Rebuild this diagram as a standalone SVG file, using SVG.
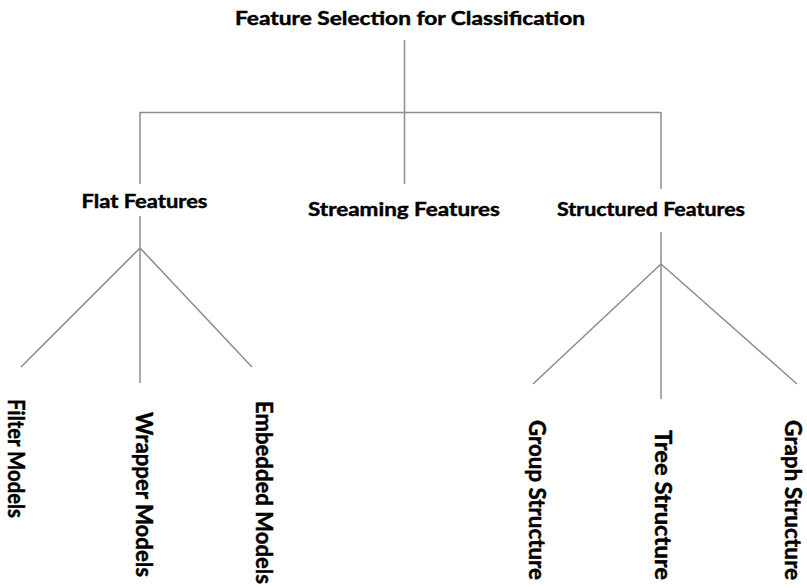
<svg xmlns="http://www.w3.org/2000/svg" width="807" height="588" viewBox="0 0 807 588">
  <style>
    .bg { fill: #ffffff; }
    .conn { stroke: #8c8c8c; stroke-width: 1.5; fill: none; }
    .lbl { font-family: Lato, "Open Sans", "Liberation Sans", sans-serif; font-weight: bold; fill: #000000; stroke: #000000; stroke-width: 0.45; }
    .h { font-size: 19px; text-anchor: middle; }
    .v { font-size: 22.5px; }
  </style>
  <rect class="bg" x="0" y="0" width="807" height="588"/>
  <g id="connectors">
    <path class="conn" d="M404.5 40 V184"/>
    <path class="conn" d="M140 112.5 H661"/>
    <path class="conn" d="M140 112 V184"/>
    <path class="conn" d="M661 112 V189"/>
    <path class="conn" d="M140 216 V383"/>
    <path class="conn" d="M140 248 L21 367"/>
    <path class="conn" d="M140 248 L252 367"/>
    <path class="conn" d="M661 232 V399"/>
    <path class="conn" d="M661 264 L533 384"/>
    <path class="conn" d="M661 264 L797 384"/>
  </g>
  <g id="root"><text class="lbl h" x="410" y="25" textLength="350" lengthAdjust="spacingAndGlyphs">Feature Selection for Classification</text></g>
  <g id="flat"><text class="lbl h" x="144.5" y="208" textLength="126" lengthAdjust="spacingAndGlyphs">Flat Features</text></g>
  <g id="streaming"><text class="lbl h" x="404" y="216" textLength="192" lengthAdjust="spacingAndGlyphs">Streaming Features</text></g>
  <g id="structured"><text class="lbl h" x="651" y="216" textLength="188" lengthAdjust="spacingAndGlyphs">Structured Features</text></g>
  <g id="filter"><text class="lbl v" transform="translate(8,399) rotate(90)" textLength="119" lengthAdjust="spacingAndGlyphs">Filter Models</text></g>
  <g id="wrapper"><text class="lbl v" transform="translate(136,412) rotate(90)" textLength="165" lengthAdjust="spacingAndGlyphs">Wrapper Models</text></g>
  <g id="embedded"><text class="lbl v" transform="translate(256,401) rotate(90)" textLength="183" lengthAdjust="spacingAndGlyphs">Embedded Models</text></g>
  <g id="group"><text class="lbl v" transform="translate(529,420) rotate(90)" textLength="160" lengthAdjust="spacingAndGlyphs">Group Structure</text></g>
  <g id="tree"><text class="lbl v" transform="translate(655,430) rotate(90)" textLength="150" lengthAdjust="spacingAndGlyphs">Tree Structure</text></g>
  <g id="graph"><text class="lbl v" transform="translate(785,420) rotate(90)" textLength="160" lengthAdjust="spacingAndGlyphs">Graph Structure</text></g>
</svg>
